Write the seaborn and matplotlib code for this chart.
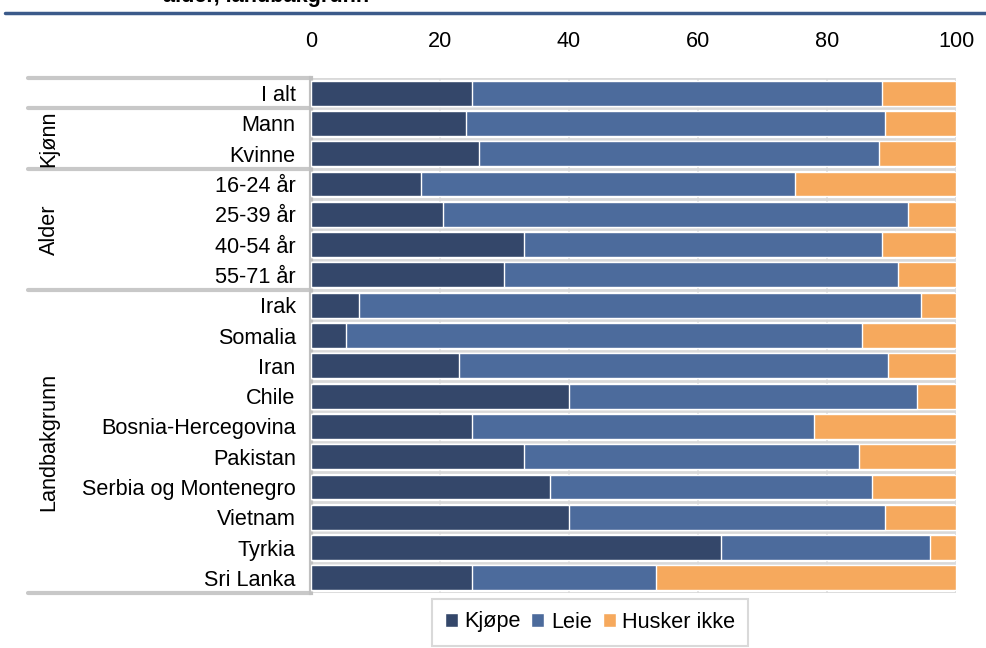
import matplotlib
matplotlib.use("Agg")
import matplotlib.pyplot as plt
import matplotlib.transforms as mtransforms
from matplotlib.patches import Patch
import pandas as pd
import seaborn as sns

# data
labels = ["I alt", "Mann", "Kvinne", "16-24 år", "25-39 år", "40-54 år", "55-71 år",
          "Irak", "Somalia", "Iran", "Chile", "Bosnia-Hercegovina", "Pakistan",
          "Serbia og Montenegro", "Vietnam", "Tyrkia", "Sri Lanka"]
kjope = [25, 24, 26, 17, 20.5, 33, 30, 7.5, 5.5, 23, 40, 25, 33, 37, 40, 63.5, 25]
leie = [63.5, 65, 62, 58, 72, 55.5, 61, 87, 80, 66.5, 54, 53, 52, 50, 49, 32.5, 28.5]
husker = [11.5, 11, 12, 25, 7.5, 11.5, 9, 5.5, 14.5, 10.5, 6, 22, 15, 13, 11, 4, 46.5]
groups = [("Kjønn", 1, 2), ("Alder", 3, 6), ("Landbakgrunn", 7, 16)]
xticks = [0, 20, 40, 60, 80, 100]

series = ["Kjøpe", "Leie", "Husker ikke"]
colors = ["#34476a", "#4c6b9c", "#f6a95d"]

df = pd.DataFrame({"label": labels, "Kjøpe": kjope, "Leie": leie, "Husker ikke": husker})
df["c1"] = df["Kjøpe"]
df["c2"] = df["Kjøpe"] + df["Leie"]
df["c3"] = df["c2"] + df["Husker ikke"]

sns.set_style("white")
plt.rcParams["font.family"] = ["Liberation Sans", "DejaVu Sans"]
plt.rcParams["text.color"] = "black"
plt.rcParams["xtick.color"] = "black"
plt.rcParams["ytick.color"] = "black"
fs = 15.6

fig = plt.figure(figsize=(9.87, 6.48), dpi=100)
ax = fig.add_axes([311 / 987, 1 - 593 / 648, 645 / 987, 515 / 648])

# stacked bars: draw cumulative totals from the back
for col, c in zip(["c3", "c2", "c1"], colors[::-1]):
    sns.barplot(data=df, x=col, y="label", color=c, orient="h", width=0.82,
                saturation=1, ax=ax, zorder=3)

n = len(labels)
ax.set_xlim(0, 100)
ax.set_ylim(n - 0.5, -0.5)
ax.set_xlabel("")
ax.set_ylabel("")
ax.set_xticks(xticks)
ax.xaxis.tick_top()
ax.tick_params(axis="x", length=0, pad=19, labelsize=fs)
ax.tick_params(axis="y", length=0, pad=11, labelsize=fs)
ax.grid(axis="x", color="#dcdcdc", lw=1.2, zorder=0)
for i in range(n + 1):
    ax.axhline(i - 0.5, color="#d9d9d9", lw=2, zorder=1)
for s in ["top", "bottom", "right"]:
    ax.spines[s].set_visible(False)
ax.spines["left"].set_color("#c0c0c0")
ax.spines["left"].set_linewidth(3)
ax.axvline(100, color="#dcdcdc", lw=1.5, zorder=1)

# label table on the left
trans = mtransforms.blended_transform_factory(ax.transAxes, ax.transData)
x0 = (28 - 311) / 645
for yb in [-0.5, 0.5, 2.5, 6.5, 16.5]:
    ax.plot([x0, 0], [yb, yb], transform=trans, color="#c8c8c8", lw=3,
            clip_on=False, solid_capstyle="round")
for name, a, b in groups:
    ax.text((49 - 311) / 645, (a + b) / 2, name, transform=trans, rotation=90,
            ha="center", va="center", fontsize=fs)

# header
fig.text(163 / 987, 1 - 2 / 648, "alder, landbakgrunn", fontsize=fs,
         fontweight="bold", ha="left", va="baseline")
fig.add_artist(plt.Line2D([5 / 987, 1], [1 - 13 / 648] * 2, color="#3b5a8a", lw=2.5))

handles = [Patch(facecolor=c, label=s) for s, c in zip(series, colors)]
leg = fig.legend(handles=handles, loc="center", bbox_to_anchor=(590 / 987, 1 - 622 / 648),
                 ncol=3, fontsize=fs, frameon=True, fancybox=False, handlelength=0.6,
                 handleheight=0.6, handletextpad=0.3, columnspacing=0.5,
                 borderpad=0.6, borderaxespad=0)
leg.get_frame().set_edgecolor("#d0d0d0")
leg.get_frame().set_linewidth(1.5)

fig.savefig("out.png", dpi=100)
